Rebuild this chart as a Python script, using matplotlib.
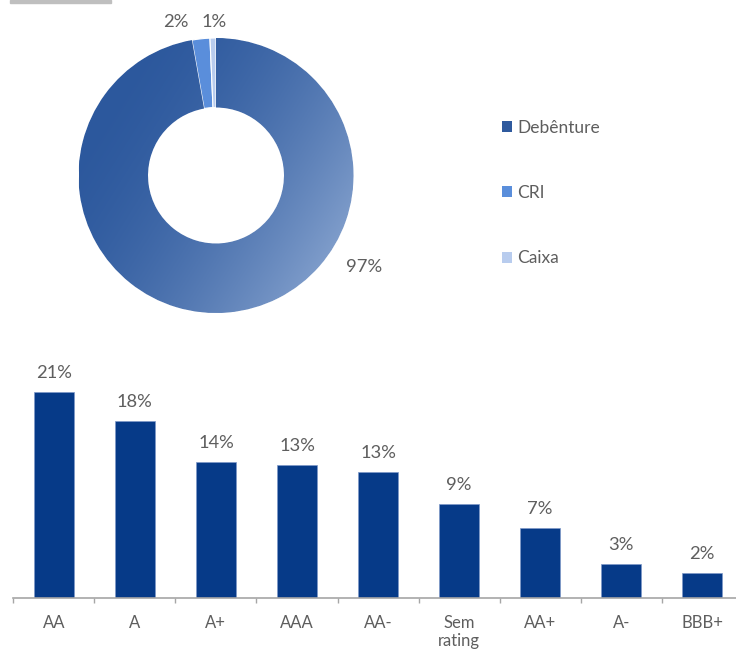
import numpy as np
import matplotlib
matplotlib.use("Agg")
import matplotlib.pyplot as plt
from matplotlib.patches import Patch, Rectangle

plt.rcParams["font.family"] = ["Lato", "DejaVu Sans"]

# ============================================================
# DATA
# ============================================================

# donut: composition by asset type
pie_names  = ["Debênture", "CRI", "Caixa"]
pie_values = [97.2, 2.1, 0.7]
pie_labels = ["97%", "2%", "1%"]

# bars: composition by rating
ratings       = ["AA", "A", "A+", "AAA", "AA-", "Sem\nrating", "AA+", "A-", "BBB+"]
rating_values = [21.0, 18.0, 13.85, 13.55, 12.85, 9.6, 7.15, 3.5, 2.6]
rating_labels = ["21%", "18%", "14%", "13%", "13%", "9%", "7%", "3%", "2%"]

# ============================================================
# STYLE
# ============================================================

TEXT_GRAY = "#5E5E5E"
AXIS_GRAY = "#A6A6A6"
BAR_BLUE  = "#063A88"
PIE_DARK  = np.array([0x2C, 0x58, 0x9D]) / 255
PIE_LIGHT = np.array([0x7E, 0x9C, 0xCA]) / 255
CRI_BLUE  = "#5A8EDB"
CAIXA_BLUE = "#B8CCEE"
PCT_SIZE = 13.2

W, H = 736, 650
fig = plt.figure(figsize=(W / 100, H / 100), dpi=100)

# small gray header strip top-left
fig.patches.append(Rectangle((10 / W, 1 - 3 / H), 101 / W, 3 / H,
                             transform=fig.transFigure, color="#BFBFBF",
                             zorder=0))

# ============================================================
# Donut
# ============================================================

cx, cy, r_out, r_in = 216, 175.5, 137.5, 68
ax_pie = fig.add_axes([(cx - r_out) / W, (H - cy - r_out) / H,
                       2 * r_out / W, 2 * r_out / H])
wedges, _ = ax_pie.pie(
    pie_values,
    colors=[PIE_DARK, CRI_BLUE, CAIXA_BLUE],
    startangle=90,
    counterclock=False,
    radius=1.0,
    wedgeprops=dict(width=1 - r_in / r_out, edgecolor="white", linewidth=0.8),
)
ax_pie.set_xlim(-1, 1)
ax_pie.set_ylim(-1, 1)
ax_pie.set_aspect("equal")
ax_pie.axis("off")

# soft gradient on the big slice (dark top-left -> light bottom-right)
gx, gy = np.meshgrid(np.linspace(-1, 1, 300), np.linspace(1, -1, 300))
d = np.array([0.85, -0.53])
d = d / np.linalg.norm(d)
t = np.clip((gx * d[0] + gy * d[1] + 1) / 2, 0, 1) ** 1.7
grad = PIE_DARK[None, None, :] + (PIE_LIGHT - PIE_DARK)[None, None, :] * t[..., None]
im = ax_pie.imshow(grad, extent=(-1, 1, -1, 1), zorder=wedges[0].get_zorder() + 0.1)
im.set_clip_path(wedges[0])

label_pos = [(1.076, -0.665), (-0.291, 1.113), (-0.015, 1.113)]
for txt, (lx, ly) in zip(pie_labels, label_pos):
    ax_pie.text(lx, ly, txt, ha="center", va="center", fontsize=PCT_SIZE,
                color=TEXT_GRAY, clip_on=False)

handles = [Patch(facecolor=c, edgecolor="none")
           for c in ["#2F5A9E", CRI_BLUE, CAIXA_BLUE]]
fig.legend(handles, pie_names, loc="center left",
           bbox_to_anchor=(502 / W, 1 - 193 / H),
           frameon=False, fontsize=12.5, labelcolor=TEXT_GRAY,
           handlelength=0.58, handleheight=0.58, handletextpad=0.3,
           labelspacing=2.84, borderpad=0, borderaxespad=0)

# ============================================================
# Bars
# ============================================================

x0, x1, base = 13.3, 742.8, 598.3
px_per_pct = 9.84
y_max = 24
ax_bar = fig.add_axes([x0 / W, (H - base) / H, (x1 - x0) / W,
                       y_max * px_per_pct / H])

pos = np.arange(len(ratings))
ax_bar.bar(pos, rating_values, width=0.49, color=BAR_BLUE,
           edgecolor="#7E98C8", linewidth=0.5, zorder=2)
for p, v, lab in zip(pos, rating_values, rating_labels):
    ax_bar.annotate(lab, (p, v), xytext=(0, 10), textcoords="offset points",
                    ha="center", va="baseline", fontsize=PCT_SIZE,
                    color=TEXT_GRAY)

ax_bar.set_xlim(-0.5, len(ratings) - 0.5)
ax_bar.set_ylim(0, y_max)
ax_bar.set_xticks(pos)
ax_bar.set_xticklabels(ratings, fontsize=12, color=TEXT_GRAY, linespacing=1.15)
ax_bar.set_xticks(np.arange(-0.5, len(ratings)), minor=True)
ax_bar.tick_params(axis="x", which="major", length=0, pad=12)
ax_bar.tick_params(axis="x", which="minor", length=3.6, width=1,
                   color=AXIS_GRAY, direction="out")
ax_bar.set_yticks([])
for side in ["top", "right", "left"]:
    ax_bar.spines[side].set_visible(False)
ax_bar.spines["bottom"].set_color(AXIS_GRAY)
ax_bar.spines["bottom"].set_linewidth(1.2)

fig.savefig("out.png", dpi=100)
